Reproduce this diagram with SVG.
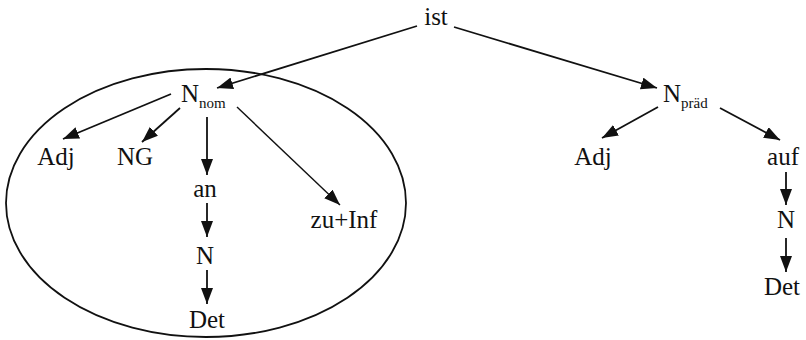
<svg xmlns="http://www.w3.org/2000/svg" width="806" height="340" viewBox="0 0 806 340">
<style>
.t text{font-family:"Liberation Serif","Times New Roman",serif;font-size:25px;fill:#111}
.m{text-anchor:middle}
.sub{font-size:15px}
.c line{stroke:#111;stroke-width:1.8;marker-end:url(#ah)}
</style>
<defs>
<marker id="ah" markerUnits="userSpaceOnUse" markerWidth="17" markerHeight="13" refX="16" refY="6" orient="auto">
<path d="M0,0 L16,6 L0,12 z" fill="#111"/>
</marker>
</defs>
<rect width="806" height="340" fill="#fff"/>
<ellipse id="circle" cx="206" cy="203" rx="200" ry="134" fill="none" stroke="#111" stroke-width="1.8"/>
<g class="c">
<line x1="417" y1="26" x2="217" y2="88"/>
<line x1="454" y1="27" x2="657" y2="88"/>
<line x1="171" y1="94" x2="63" y2="139"/>
<line x1="180" y1="108" x2="142" y2="142"/>
<line x1="207" y1="117" x2="207" y2="175"/>
<line x1="237" y1="107" x2="340" y2="205" style="stroke-width:1.4"/>
<line x1="207" y1="203" x2="207" y2="237"/>
<line x1="207" y1="270" x2="207" y2="304"/>
<line x1="658" y1="107" x2="602" y2="138"/>
<line x1="720" y1="108" x2="780" y2="140"/>
<line x1="786" y1="172" x2="786" y2="205"/>
<line x1="786" y1="238" x2="786" y2="272"/>
</g>
<g class="t">
<g id="ist"><text class="m" x="436" y="25">ist</text></g>
<g id="Nnom"><text x="181" y="102">N<tspan class="sub" dy="6">nom</tspan></text></g>
<g id="Npraed"><text x="663" y="102">N<tspan class="sub" dy="6">präd</tspan></text></g>
<g id="Adj1"><text class="m" x="56" y="165">Adj</text></g>
<g id="NG"><text class="m" x="135" y="165">NG</text></g>
<g id="an"><text class="m" x="205" y="197">an</text></g>
<g id="N1"><text class="m" x="205" y="264">N</text></g>
<g id="Det1"><text class="m" x="207" y="328">Det</text></g>
<g id="zuInf"><text class="m" x="344" y="228">zu+Inf</text></g>
<g id="Adj2"><text class="m" x="593" y="165">Adj</text></g>
<g id="auf"><text class="m" x="783" y="165">auf</text></g>
<g id="N2"><text class="m" x="786" y="228">N</text></g>
<g id="Det2"><text class="m" x="782" y="295">Det</text></g>
</g>
</svg>
